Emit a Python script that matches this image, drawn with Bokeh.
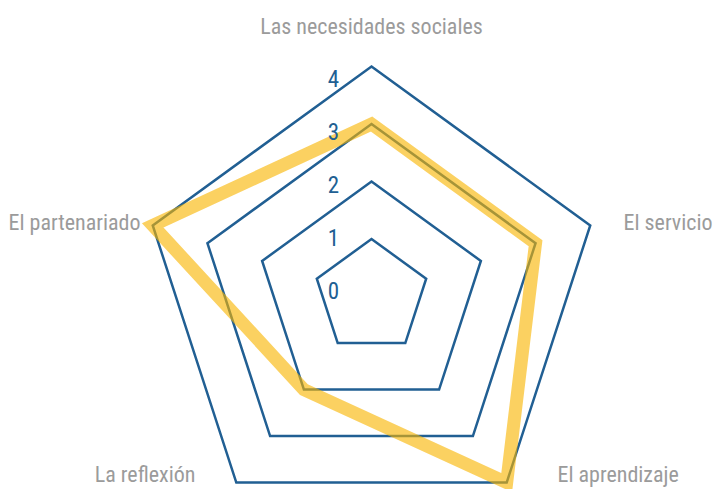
import math
from bokeh.plotting import figure
from bokeh.models import Range1d
from bokeh.core.properties import value
from bokeh.embed import file_html
from bokeh.resources import INLINE

# ---- data ----
categories = ["Las necesidades sociales", "El servicio", "El aprendizaje",
              "La reflexión", "El partenariado"]
scores = [3, 3, 4, 2, 4]
levels = [1, 2, 3, 4]
level_labels = ["0", "1", "2", "3", "4"]

W, H = 714, 489
PX = 57.5            # pixels per unit
CX, CY = 371, 296    # centre in pixels
FONT = "Roboto Condensed"
BLUE = "#215f93"
GREY = "#9b9b9b"

p = figure(width=W, height=H, output_backend="svg", toolbar_location=None,
           x_range=Range1d(-CX / PX, (W - CX) / PX),
           y_range=Range1d(-(H - CY) / PX, CY / PX),
           min_border=0, outline_line_color=None)
p.axis.visible = False
p.grid.visible = False
p.background_fill_color = "white"

n = len(categories)
angles = [math.pi / 2 - 2 * math.pi * i / n for i in range(n)]

# grid pentagons
for lv in levels:
    xs = [lv * math.cos(a) for a in angles]
    ys = [lv * math.sin(a) for a in angles]
    p.patch(xs, ys, fill_color=None, line_color=BLUE, line_width=2.5,
            line_join="miter")

# data polygon
dx = [s * math.cos(a) for s, a in zip(scores, angles)]
dy = [s * math.sin(a) for s, a in zip(scores, angles)]
p.patch(dx, dy, fill_color=None, line_color="#f9b500", line_alpha=0.62,
        line_width=13, line_join="miter")

# level labels
lx = [-0.66] * len(level_labels)
ly = [0.104 + 0.92 * k for k in range(len(level_labels))]
p.text(lx, ly, text=level_labels, text_font=value(FONT), text_font_size="23px",
       text_color=BLUE, text_align="center", text_baseline="middle")

# category labels (pixel anchors -> data)
anchors = [(371, 26, "center"), (712, 222, "right"), (557, 474, "left"),
           (195, 474, "right"), (140, 222, "right")]
for cat, (ax, ay, al) in zip(categories, anchors):
    p.text([(ax - CX) / PX], [(CY - ay) / PX], text=[cat], text_font=value(FONT),
           text_font_size="22px", text_color=GREY, text_align=al,
           text_baseline="middle")

open("out.html", "w").write(file_html(p, INLINE))
